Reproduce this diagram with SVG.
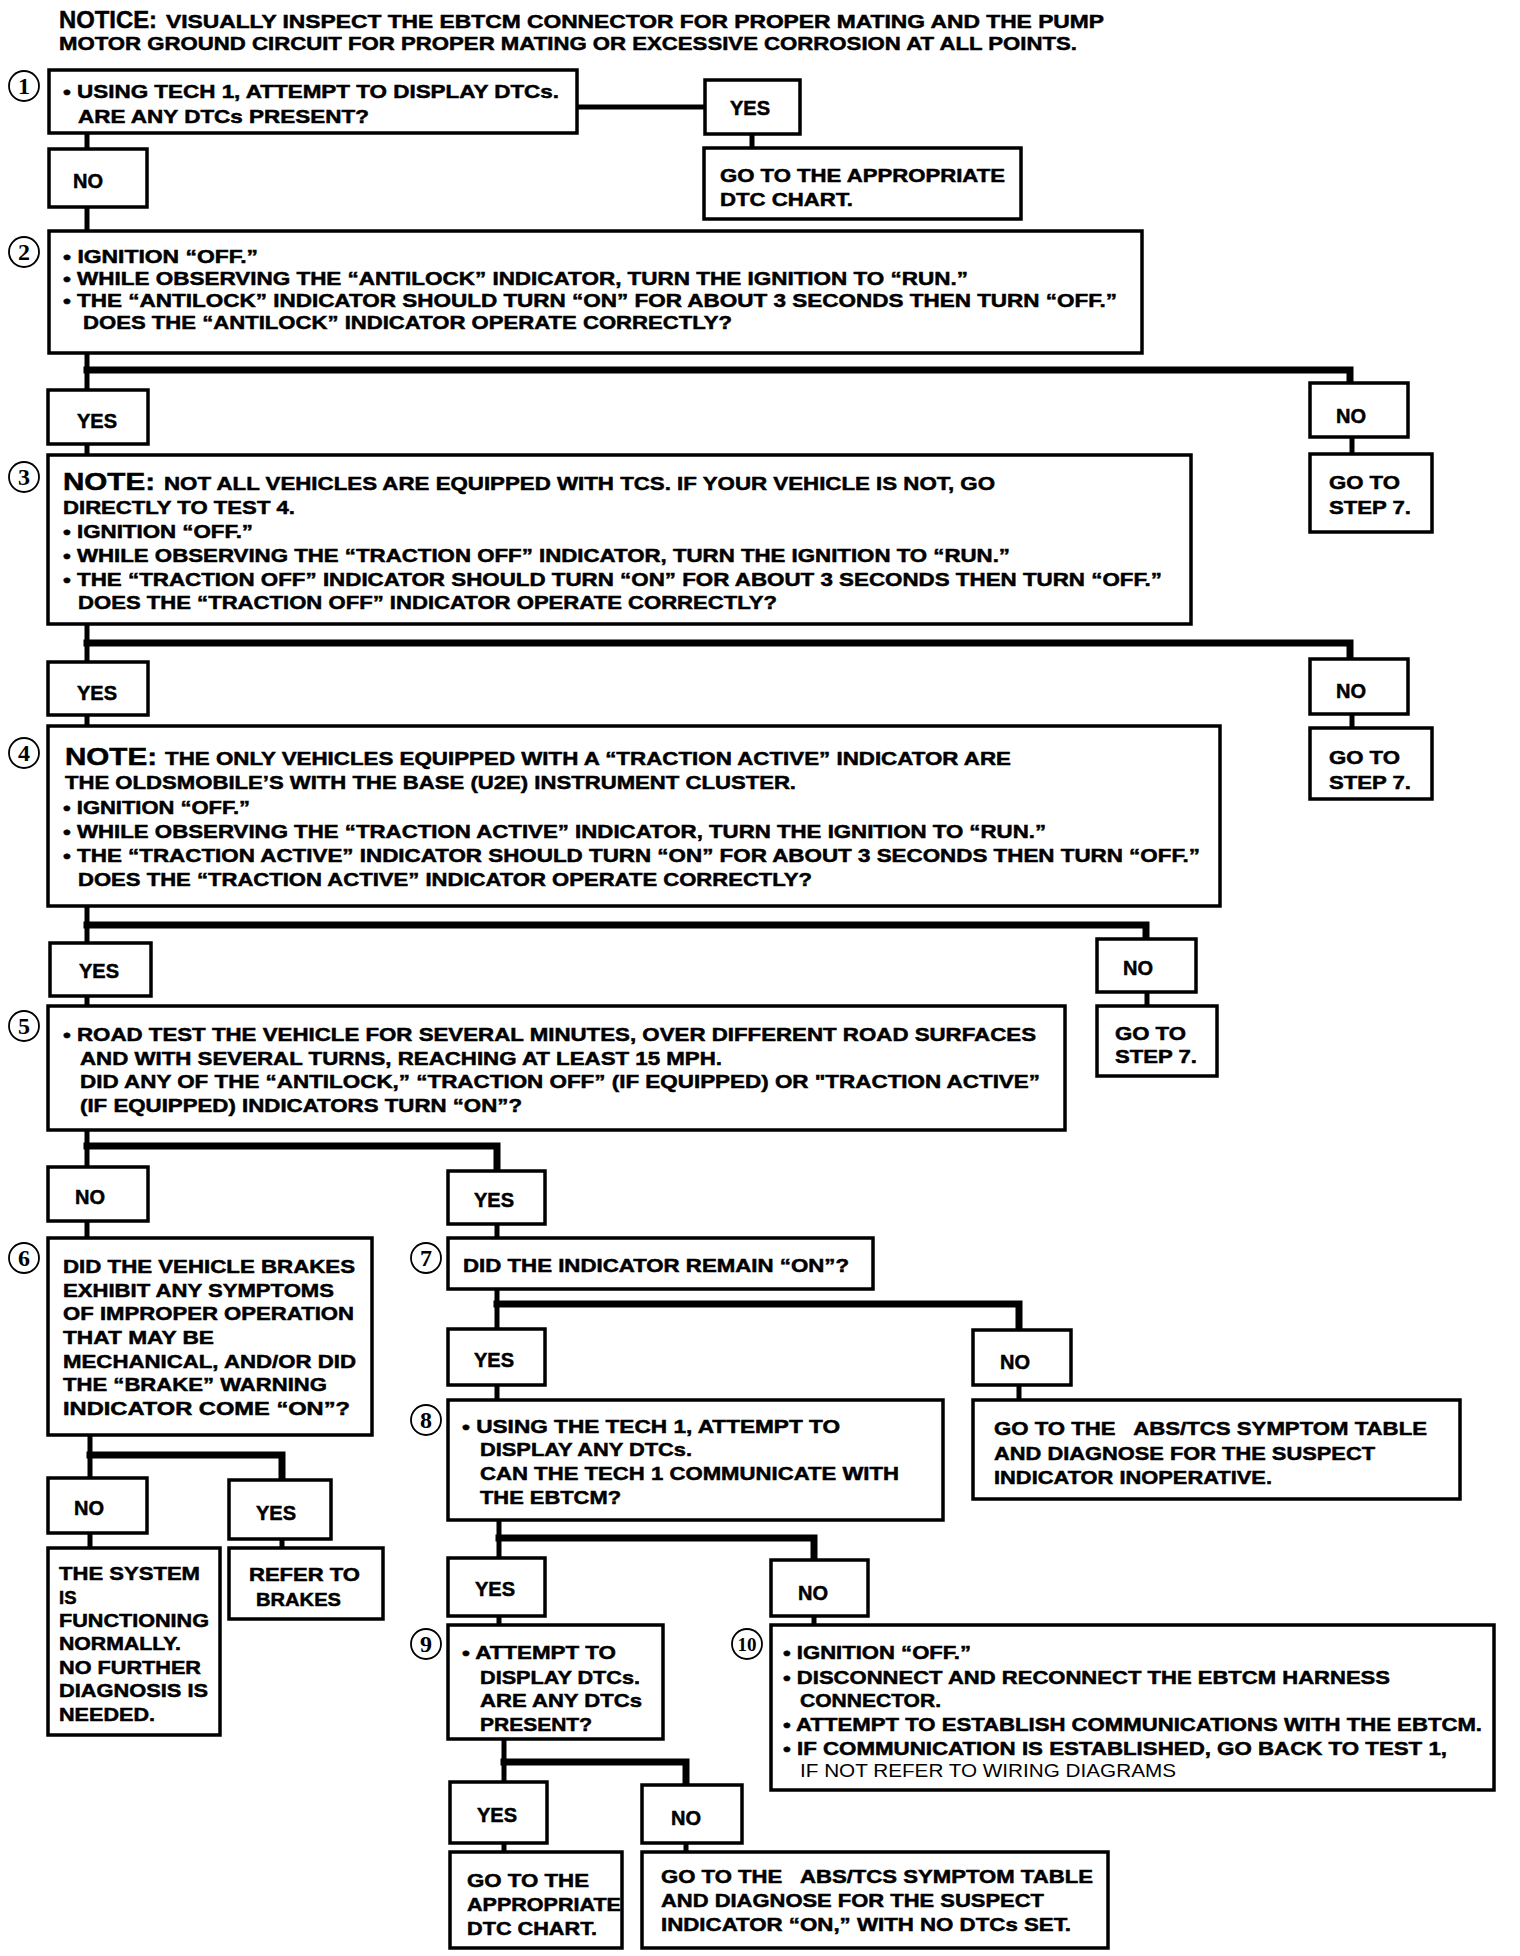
<svg xmlns="http://www.w3.org/2000/svg" width="1520" height="1956" viewBox="0 0 1520 1956">
<style>
.bg{fill:#fff}
.box{fill:#fff;stroke:#000;stroke-width:3.5}
.c{stroke:#000;stroke-width:5;fill:none;stroke-linecap:square}
.bar{stroke:#000;stroke-width:7;fill:none;stroke-linecap:square}
.t{font-family:"Liberation Sans",Arial,Helvetica,sans-serif;font-weight:bold;font-size:18.5px;fill:#000;stroke:#000;stroke-width:0.5}
.l{font-family:"Liberation Sans",Arial,Helvetica,sans-serif;font-weight:bold;font-size:20px;fill:#000;stroke:#000;stroke-width:0.5}
.r{font-family:"Liberation Sans",Arial,Helvetica,sans-serif;font-weight:normal;font-size:18.5px;fill:#000}
.big{font-family:"Liberation Sans",Arial,Helvetica,sans-serif;font-weight:bold;font-size:24px;fill:#000;stroke:#000;stroke-width:0.5}
.num circle{fill:#fff;stroke:#000;stroke-width:1.8}
.num text{font-family:"Liberation Serif","Times New Roman",serif;font-weight:bold;font-size:24px;fill:#000;text-anchor:middle}
</style>
<rect class="bg" x="0" y="0" width="1520" height="1956"/>

<g id="notice">
<text class="big" x="59" y="28" textLength="98" lengthAdjust="spacingAndGlyphs">NOTICE:</text>
<text class="t" x="166" y="28" textLength="938" lengthAdjust="spacingAndGlyphs">VISUALLY INSPECT THE EBTCM CONNECTOR FOR PROPER MATING AND THE PUMP</text>
<text class="t" x="59" y="50" textLength="1018" lengthAdjust="spacingAndGlyphs">MOTOR GROUND CIRCUIT FOR PROPER MATING OR EXCESSIVE CORROSION AT ALL POINTS.</text>
</g>

<g id="connectors">
<line class="c" x1="577" y1="107" x2="705" y2="107"/>
<line class="c" x1="752" y1="134" x2="752" y2="148"/>
<line class="c" x1="87" y1="133" x2="87" y2="149"/>
<line class="c" x1="87" y1="207" x2="87" y2="231"/>
<line class="c" x1="87" y1="353" x2="87" y2="390"/>
<polyline class="bar" points="87,370 1350,370 1350,383"/>
<line class="c" x1="1352" y1="437" x2="1352" y2="454"/>
<line class="c" x1="87" y1="444" x2="87" y2="454"/>
<line class="c" x1="87" y1="624" x2="87" y2="662"/>
<polyline class="bar" points="87,643 1350,643 1350,659"/>
<line class="c" x1="1352" y1="714" x2="1352" y2="728"/>
<line class="c" x1="87" y1="715" x2="87" y2="726"/>
<line class="c" x1="87" y1="906" x2="87" y2="943"/>
<polyline class="bar" points="87,925 1146,925 1146,939"/>
<line class="c" x1="1147" y1="992" x2="1147" y2="1006"/>
<line class="c" x1="87" y1="996" x2="87" y2="1006"/>
<line class="c" x1="87" y1="1130" x2="87" y2="1167"/>
<polyline class="bar" points="87,1146 497,1146 497,1171"/>
<line class="c" x1="87" y1="1221" x2="87" y2="1238"/>
<line class="c" x1="497" y1="1224" x2="497" y2="1238"/>
<line class="c" x1="497" y1="1289" x2="497" y2="1329"/>
<polyline class="bar" points="497,1304 1019,1304 1019,1330"/>
<line class="c" x1="497" y1="1385" x2="497" y2="1400"/>
<line class="c" x1="1019" y1="1385" x2="1019" y2="1400"/>
<line class="c" x1="90" y1="1435" x2="90" y2="1478"/>
<polyline class="bar" points="90,1455 282,1455 282,1480"/>
<line class="c" x1="90" y1="1533" x2="90" y2="1548"/>
<line class="c" x1="282" y1="1539" x2="282" y2="1548"/>
<line class="c" x1="499" y1="1520" x2="499" y2="1558"/>
<polyline class="bar" points="499,1538 814,1538 814,1560"/>
<line class="c" x1="499" y1="1616" x2="499" y2="1625"/>
<line class="c" x1="814" y1="1616" x2="814" y2="1625"/>
<line class="c" x1="504" y1="1739" x2="504" y2="1782"/>
<polyline class="bar" points="504,1762 686,1762 686,1785"/>
<line class="c" x1="504" y1="1843" x2="504" y2="1852"/>
<line class="c" x1="686" y1="1843" x2="686" y2="1852"/>
</g>

<g id="step1">
<g class="num"><circle cx="24" cy="86" r="15"/><text x="24" y="94">1</text></g>
<rect class="box" x="49" y="70" width="528" height="63"/>
<text class="t" x="63" y="98" textLength="496" lengthAdjust="spacingAndGlyphs">• USING TECH 1, ATTEMPT TO DISPLAY DTCs.</text>
<text class="t" x="78" y="123" textLength="291" lengthAdjust="spacingAndGlyphs">ARE ANY DTCs PRESENT?</text>
</g>
<g id="yes1">
<rect class="box" x="705" y="80" width="95" height="54"/>
<text class="l" x="730" y="115">YES</text>
</g>
<g id="result1">
<rect class="box" x="704" y="148" width="317" height="71"/>
<text class="t" x="720" y="182" textLength="285" lengthAdjust="spacingAndGlyphs">GO TO THE APPROPRIATE</text>
<text class="t" x="720" y="206" textLength="133" lengthAdjust="spacingAndGlyphs">DTC CHART.</text>
</g>
<g id="no1">
<rect class="box" x="49" y="149" width="98" height="58"/>
<text class="l" x="73" y="188">NO</text>
</g>

<g id="step2">
<g class="num"><circle cx="24" cy="252" r="15"/><text x="24" y="260">2</text></g>
<rect class="box" x="49" y="231" width="1093" height="122"/>
<text class="t" x="63" y="263" textLength="195" lengthAdjust="spacingAndGlyphs">• IGNITION “OFF.”</text>
<text class="t" x="63" y="285" textLength="905" lengthAdjust="spacingAndGlyphs">• WHILE OBSERVING THE “ANTILOCK” INDICATOR, TURN THE IGNITION TO “RUN.”</text>
<text class="t" x="63" y="307" textLength="1054" lengthAdjust="spacingAndGlyphs">• THE “ANTILOCK” INDICATOR SHOULD TURN “ON” FOR ABOUT 3 SECONDS THEN TURN “OFF.”</text>
<text class="t" x="83" y="329" textLength="649" lengthAdjust="spacingAndGlyphs">DOES THE “ANTILOCK” INDICATOR OPERATE CORRECTLY?</text>
</g>
<g id="yes2">
<rect class="box" x="48" y="390" width="100" height="54"/>
<text class="l" x="77" y="428">YES</text>
</g>
<g id="no2">
<rect class="box" x="1310" y="383" width="98" height="54"/>
<text class="l" x="1336" y="423">NO</text>
</g>
<g id="goto2">
<rect class="box" x="1310" y="454" width="122" height="78"/>
<text class="t" x="1329" y="489" textLength="71" lengthAdjust="spacingAndGlyphs">GO TO</text>
<text class="t" x="1329" y="514" textLength="82" lengthAdjust="spacingAndGlyphs">STEP 7.</text>
</g>

<g id="step3">
<g class="num"><circle cx="24" cy="477" r="15"/><text x="24" y="485">3</text></g>
<rect class="box" x="48" y="455" width="1143" height="169"/>
<text class="big" x="63" y="490" textLength="92" lengthAdjust="spacingAndGlyphs">NOTE:</text>
<text class="t" x="164" y="490" textLength="831" lengthAdjust="spacingAndGlyphs">NOT ALL VEHICLES ARE EQUIPPED WITH TCS. IF YOUR VEHICLE IS NOT, GO</text>
<text class="t" x="63" y="514" textLength="232" lengthAdjust="spacingAndGlyphs">DIRECTLY TO TEST 4.</text>
<text class="t" x="63" y="538" textLength="190" lengthAdjust="spacingAndGlyphs">• IGNITION “OFF.”</text>
<text class="t" x="63" y="562" textLength="947" lengthAdjust="spacingAndGlyphs">• WHILE OBSERVING THE “TRACTION OFF” INDICATOR, TURN THE IGNITION TO “RUN.”</text>
<text class="t" x="63" y="586" textLength="1099" lengthAdjust="spacingAndGlyphs">• THE “TRACTION OFF” INDICATOR SHOULD TURN “ON” FOR ABOUT 3 SECONDS THEN TURN “OFF.”</text>
<text class="t" x="78" y="609" textLength="699" lengthAdjust="spacingAndGlyphs">DOES THE “TRACTION OFF” INDICATOR OPERATE CORRECTLY?</text>
</g>
<g id="yes3">
<rect class="box" x="48" y="662" width="100" height="53"/>
<text class="l" x="77" y="700">YES</text>
</g>
<g id="no3">
<rect class="box" x="1310" y="659" width="98" height="55"/>
<text class="l" x="1336" y="698">NO</text>
</g>
<g id="goto3">
<rect class="box" x="1310" y="728" width="122" height="71"/>
<text class="t" x="1329" y="764" textLength="71" lengthAdjust="spacingAndGlyphs">GO TO</text>
<text class="t" x="1329" y="789" textLength="82" lengthAdjust="spacingAndGlyphs">STEP 7.</text>
</g>

<g id="step4">
<g class="num"><circle cx="24" cy="753" r="15"/><text x="24" y="761">4</text></g>
<rect class="box" x="48" y="726" width="1172" height="180"/>
<text class="big" x="65" y="765" textLength="92" lengthAdjust="spacingAndGlyphs">NOTE:</text>
<text class="t" x="165" y="765" textLength="846" lengthAdjust="spacingAndGlyphs">THE ONLY VEHICLES EQUIPPED WITH A “TRACTION ACTIVE” INDICATOR ARE</text>
<text class="t" x="65" y="789" textLength="731" lengthAdjust="spacingAndGlyphs">THE OLDSMOBILE’S WITH THE BASE (U2E) INSTRUMENT CLUSTER.</text>
<text class="t" x="63" y="814" textLength="187" lengthAdjust="spacingAndGlyphs">• IGNITION “OFF.”</text>
<text class="t" x="63" y="838" textLength="983" lengthAdjust="spacingAndGlyphs">• WHILE OBSERVING THE “TRACTION ACTIVE” INDICATOR, TURN THE IGNITION TO “RUN.”</text>
<text class="t" x="63" y="862" textLength="1137" lengthAdjust="spacingAndGlyphs">• THE “TRACTION ACTIVE” INDICATOR SHOULD TURN “ON” FOR ABOUT 3 SECONDS THEN TURN “OFF.”</text>
<text class="t" x="78" y="886" textLength="734" lengthAdjust="spacingAndGlyphs">DOES THE “TRACTION ACTIVE” INDICATOR OPERATE CORRECTLY?</text>
</g>
<g id="yes4">
<rect class="box" x="50" y="943" width="101" height="53"/>
<text class="l" x="79" y="978">YES</text>
</g>
<g id="no4">
<rect class="box" x="1097" y="939" width="99" height="53"/>
<text class="l" x="1123" y="975">NO</text>
</g>
<g id="goto4">
<rect class="box" x="1097" y="1006" width="120" height="70"/>
<text class="t" x="1115" y="1040" textLength="71" lengthAdjust="spacingAndGlyphs">GO TO</text>
<text class="t" x="1115" y="1063" textLength="82" lengthAdjust="spacingAndGlyphs">STEP 7.</text>
</g>

<g id="step5">
<g class="num"><circle cx="24" cy="1026" r="15"/><text x="24" y="1034">5</text></g>
<rect class="box" x="48" y="1006" width="1017" height="124"/>
<text class="t" x="63" y="1041" textLength="973" lengthAdjust="spacingAndGlyphs">• ROAD TEST THE VEHICLE FOR SEVERAL MINUTES, OVER DIFFERENT ROAD SURFACES</text>
<text class="t" x="80" y="1065" textLength="642" lengthAdjust="spacingAndGlyphs">AND WITH SEVERAL TURNS, REACHING AT LEAST 15 MPH.</text>
<text class="t" x="80" y="1088" textLength="960" lengthAdjust="spacingAndGlyphs">DID ANY OF THE “ANTILOCK,” “TRACTION OFF” (IF EQUIPPED) OR "TRACTION ACTIVE”</text>
<text class="t" x="80" y="1112" textLength="442" lengthAdjust="spacingAndGlyphs">(IF EQUIPPED) INDICATORS TURN “ON”?</text>
</g>
<g id="no5">
<rect class="box" x="48" y="1167" width="100" height="54"/>
<text class="l" x="75" y="1204">NO</text>
</g>
<g id="yes5">
<rect class="box" x="448" y="1171" width="97" height="53"/>
<text class="l" x="474" y="1207">YES</text>
</g>

<g id="step6">
<g class="num"><circle cx="24" cy="1258" r="15"/><text x="24" y="1266">6</text></g>
<rect class="box" x="48" y="1238" width="324" height="197"/>
<text class="t" x="63" y="1273" textLength="292" lengthAdjust="spacingAndGlyphs">DID THE VEHICLE BRAKES</text>
<text class="t" x="63" y="1297" textLength="271" lengthAdjust="spacingAndGlyphs">EXHIBIT ANY SYMPTOMS</text>
<text class="t" x="63" y="1320" textLength="291" lengthAdjust="spacingAndGlyphs">OF IMPROPER OPERATION</text>
<text class="t" x="63" y="1344" textLength="151" lengthAdjust="spacingAndGlyphs">THAT MAY BE</text>
<text class="t" x="63" y="1368" textLength="293" lengthAdjust="spacingAndGlyphs">MECHANICAL, AND/OR DID</text>
<text class="t" x="63" y="1391" textLength="264" lengthAdjust="spacingAndGlyphs">THE “BRAKE” WARNING</text>
<text class="t" x="63" y="1415" textLength="287" lengthAdjust="spacingAndGlyphs">INDICATOR COME “ON”?</text>
</g>

<g id="step7">
<g class="num"><circle cx="426" cy="1258" r="15"/><text x="426" y="1266">7</text></g>
<rect class="box" x="448" y="1238" width="425" height="51"/>
<text class="t" x="463" y="1272" textLength="386" lengthAdjust="spacingAndGlyphs">DID THE INDICATOR REMAIN “ON”?</text>
</g>
<g id="yes7">
<rect class="box" x="448" y="1329" width="97" height="56"/>
<text class="l" x="474" y="1367">YES</text>
</g>
<g id="no7">
<rect class="box" x="973" y="1330" width="98" height="55"/>
<text class="l" x="1000" y="1369">NO</text>
</g>

<g id="step8">
<g class="num"><circle cx="426" cy="1420" r="15"/><text x="426" y="1428">8</text></g>
<rect class="box" x="448" y="1400" width="495" height="120"/>
<text class="t" x="462" y="1433" textLength="378" lengthAdjust="spacingAndGlyphs">• USING THE TECH 1, ATTEMPT TO</text>
<text class="t" x="480" y="1456" textLength="212" lengthAdjust="spacingAndGlyphs">DISPLAY ANY DTCs.</text>
<text class="t" x="480" y="1480" textLength="419" lengthAdjust="spacingAndGlyphs">CAN THE TECH 1 COMMUNICATE WITH</text>
<text class="t" x="480" y="1504" textLength="141" lengthAdjust="spacingAndGlyphs">THE EBTCM?</text>
</g>
<g id="result7">
<rect class="box" x="973" y="1400" width="487" height="99"/>
<text class="t" x="994" y="1435" textLength="433" lengthAdjust="spacingAndGlyphs">GO TO THE &#160; ABS/TCS SYMPTOM TABLE</text>
<text class="t" x="994" y="1460" textLength="381" lengthAdjust="spacingAndGlyphs">AND DIAGNOSE FOR THE SUSPECT</text>
<text class="t" x="994" y="1484" textLength="278" lengthAdjust="spacingAndGlyphs">INDICATOR INOPERATIVE.</text>
</g>

<g id="no6">
<rect class="box" x="48" y="1478" width="99" height="55"/>
<text class="l" x="74" y="1515">NO</text>
</g>
<g id="yes6">
<rect class="box" x="229" y="1480" width="102" height="59"/>
<text class="l" x="256" y="1520">YES</text>
</g>
<g id="result6no">
<rect class="box" x="48" y="1548" width="172" height="187"/>
<text class="t" x="59" y="1580" textLength="141" lengthAdjust="spacingAndGlyphs">THE SYSTEM</text>
<text class="t" x="59" y="1604">IS</text>
<text class="t" x="59" y="1627" textLength="150" lengthAdjust="spacingAndGlyphs">FUNCTIONING</text>
<text class="t" x="59" y="1650" textLength="122" lengthAdjust="spacingAndGlyphs">NORMALLY.</text>
<text class="t" x="59" y="1674" textLength="142" lengthAdjust="spacingAndGlyphs">NO FURTHER</text>
<text class="t" x="59" y="1697" textLength="149" lengthAdjust="spacingAndGlyphs">DIAGNOSIS IS</text>
<text class="t" x="59" y="1721" textLength="96" lengthAdjust="spacingAndGlyphs">NEEDED.</text>
</g>
<g id="result6yes">
<rect class="box" x="229" y="1548" width="154" height="71"/>
<text class="t" x="249" y="1581" textLength="111" lengthAdjust="spacingAndGlyphs">REFER TO</text>
<text class="t" x="256" y="1606" textLength="85" lengthAdjust="spacingAndGlyphs">BRAKES</text>
</g>

<g id="yes8">
<rect class="box" x="448" y="1558" width="97" height="58"/>
<text class="l" x="475" y="1596">YES</text>
</g>
<g id="no8">
<rect class="box" x="771" y="1560" width="97" height="56"/>
<text class="l" x="798" y="1600">NO</text>
</g>

<g id="step9">
<g class="num"><circle cx="426" cy="1644" r="15"/><text x="426" y="1652">9</text></g>
<rect class="box" x="448" y="1625" width="215" height="114"/>
<text class="t" x="462" y="1659" textLength="154" lengthAdjust="spacingAndGlyphs">• ATTEMPT TO</text>
<text class="t" x="480" y="1684" textLength="160" lengthAdjust="spacingAndGlyphs">DISPLAY DTCs.</text>
<text class="t" x="480" y="1707" textLength="162" lengthAdjust="spacingAndGlyphs">ARE ANY DTCs</text>
<text class="t" x="480" y="1731" textLength="112" lengthAdjust="spacingAndGlyphs">PRESENT?</text>
</g>

<g id="step10">
<g class="num"><circle cx="747" cy="1644" r="15"/><text x="747" y="1651" style="font-size:19px">10</text></g>
<rect class="box" x="771" y="1625" width="723" height="165"/>
<text class="t" x="783" y="1659" textLength="188" lengthAdjust="spacingAndGlyphs">• IGNITION “OFF.”</text>
<text class="t" x="783" y="1684" textLength="607" lengthAdjust="spacingAndGlyphs">• DISCONNECT AND RECONNECT THE EBTCM HARNESS</text>
<text class="t" x="800" y="1707" textLength="141" lengthAdjust="spacingAndGlyphs">CONNECTOR.</text>
<text class="t" x="783" y="1731" textLength="699" lengthAdjust="spacingAndGlyphs">• ATTEMPT TO ESTABLISH COMMUNICATIONS WITH THE EBTCM.</text>
<text class="t" x="783" y="1755" textLength="664" lengthAdjust="spacingAndGlyphs">• IF COMMUNICATION IS ESTABLISHED, GO BACK TO TEST 1,</text>
<text class="r" x="800" y="1777" textLength="376" lengthAdjust="spacingAndGlyphs">IF NOT REFER TO WIRING DIAGRAMS</text>
</g>

<g id="yes9">
<rect class="box" x="450" y="1782" width="97" height="61"/>
<text class="l" x="477" y="1822">YES</text>
</g>
<g id="no9">
<rect class="box" x="642" y="1785" width="100" height="58"/>
<text class="l" x="671" y="1825">NO</text>
</g>
<g id="result9yes">
<rect class="box" x="450" y="1852" width="172" height="96"/>
<text class="t" x="467" y="1887" textLength="122" lengthAdjust="spacingAndGlyphs">GO TO THE</text>
<text class="t" x="467" y="1911" textLength="154" lengthAdjust="spacingAndGlyphs">APPROPRIATE</text>
<text class="t" x="467" y="1935" textLength="130" lengthAdjust="spacingAndGlyphs">DTC CHART.</text>
</g>
<g id="result9no">
<rect class="box" x="642" y="1852" width="466" height="96"/>
<text class="t" x="661" y="1883" textLength="432" lengthAdjust="spacingAndGlyphs">GO TO THE &#160; ABS/TCS SYMPTOM TABLE</text>
<text class="t" x="661" y="1907" textLength="383" lengthAdjust="spacingAndGlyphs">AND DIAGNOSE FOR THE SUSPECT</text>
<text class="t" x="661" y="1931" textLength="410" lengthAdjust="spacingAndGlyphs">INDICATOR “ON,” WITH NO DTCs SET.</text>
</g>
</svg>
